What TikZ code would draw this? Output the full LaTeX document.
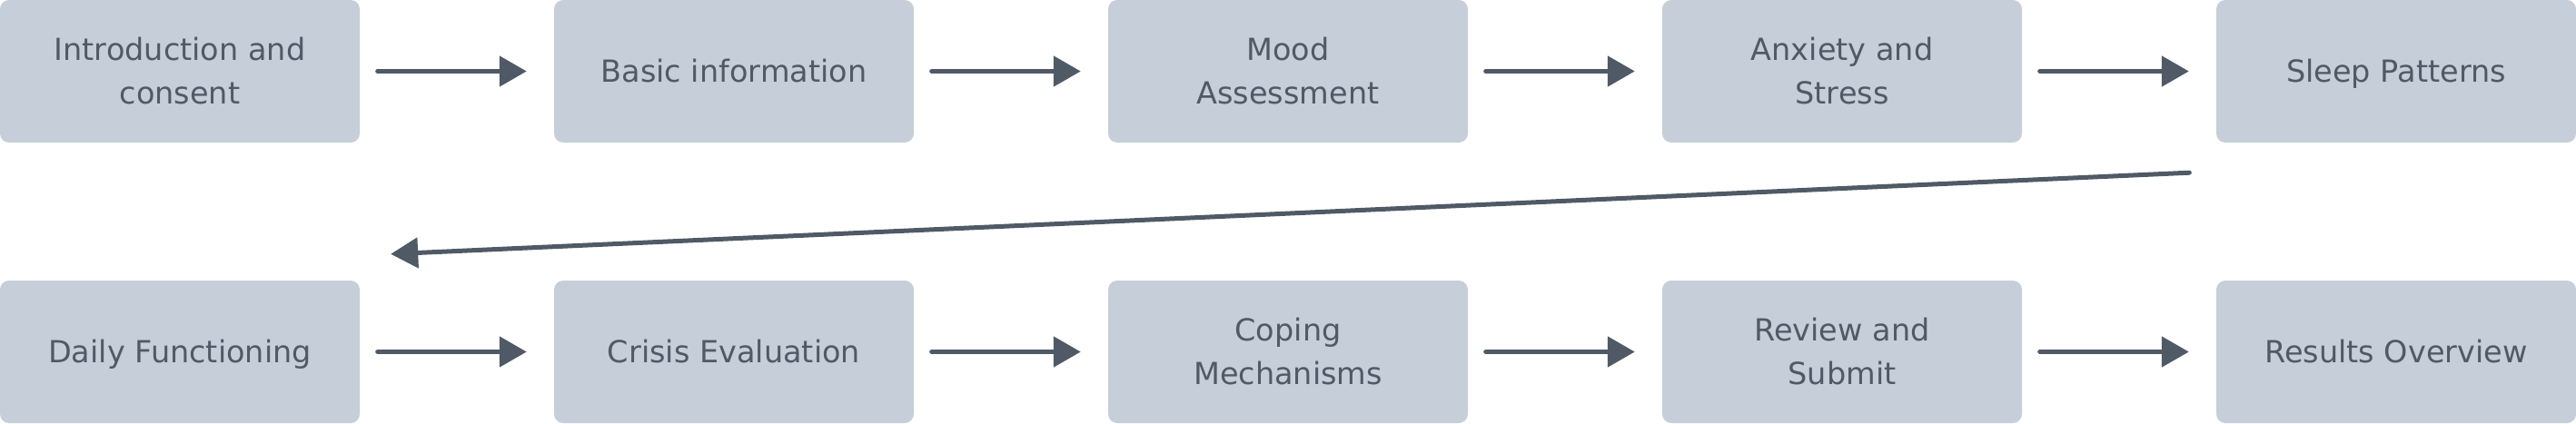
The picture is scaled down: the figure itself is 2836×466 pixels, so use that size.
\documentclass[tikz,border=0pt]{standalone}
\usepackage{fontspec}
\setmainfont{DejaVu Sans}
\usetikzlibrary{arrows.meta,calc}
\definecolor{boxfill}{RGB}{198,206,217}
\definecolor{ink}{RGB}{80,90,102}
\begin{document}
\begin{tikzpicture}[x=1pt,y=-1pt,
  stepbox/.style={fill=boxfill, rounded corners=10pt, minimum width=396pt, minimum height=157pt,
    inner sep=0pt, align=center, text=ink, font=\fontsize{33.5}{48}\selectfont},
  oneline/.style={text height=24.5pt, text depth=0pt},
  arr/.style={draw=ink, line width=5pt, line cap=round, -{Triangle[length=30pt,width=33pt]}}]
\useasboundingbox (0,0) rectangle (2836,466);
\node[stepbox] (n1) at (198,78.5) {Introduction and\\consent};
\node[stepbox, oneline] (n2) at (808,78.5) {Basic information};
\node[stepbox] (n3) at (1418,78.5) {Mood\\Assessment};
\node[stepbox] (n4) at (2028,78.5) {Anxiety and\\Stress};
\node[stepbox, oneline] (n5) at (2638,78.5) {Sleep Patterns};
\node[stepbox, oneline] (n6) at (198,387.5) {Daily Functioning};
\node[stepbox, oneline] (n7) at (808,387.5) {Crisis Evaluation};
\node[stepbox] (n8) at (1418,387.5) {Coping\\Mechanisms};
\node[stepbox] (n9) at (2028,387.5) {Review and\\Submit};
\node[stepbox, oneline] (n10) at (2638,387.5) {Results Overview};
\foreach \a/\b in {n1/n2,n2/n3,n3/n4,n4/n5,n6/n7,n7/n8,n8/n9,n9/n10}
  \draw[arr, shorten <=19.5pt, shorten >=30pt] (\a.east) -- (\b.west);
\coordinate (ds) at ($(n5.south west)+(-29.5,33)$);
\coordinate (de) at ($(n6.north east)+(34,-29)$);
\draw[arr] (ds) -- (de);
\end{tikzpicture}
\end{document}
